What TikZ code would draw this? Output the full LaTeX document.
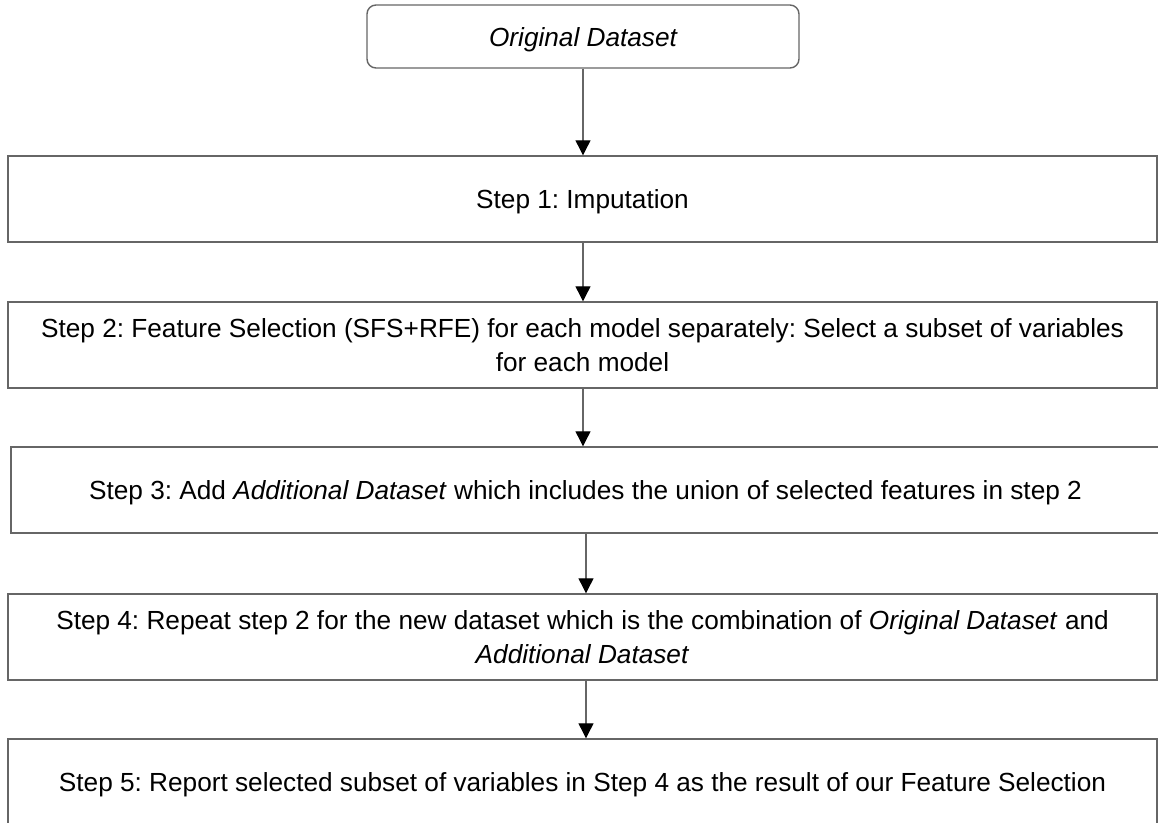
\documentclass[tikz,border=0pt]{standalone}
\usepackage{fontspec}
\setmainfont{Liberation Sans}
\usetikzlibrary{arrows.meta}
\definecolor{edge}{HTML}{666666}
\frenchspacing
\begin{document}
\begin{tikzpicture}[x=0.5pt,y=-0.5pt,
  every node/.style={font=\fontsize{13.1pt}{17pt}\selectfont, text=black, align=center, inner sep=0pt},
  oneline/.style={text height=12.75pt, text depth=3pt},
  stepbox/.style={draw=edge, line width=0.7pt, rectangle, minimum width=574.5pt, minimum height=43pt},
  startbox/.style={draw=edge, line width=0.7pt, rectangle, rounded corners=4.5pt, minimum width=216pt, minimum height=31.5pt},
  flow/.style={draw=edge, line width=0.6pt, -{Triangle[length=7.5pt,width=7.5pt,fill=black,color=black]}}
]
\useasboundingbox (0,0) rectangle (1158,823);
\fill[white] (0,0) rectangle (1158,823);

\node[startbox, oneline] (orig) at (583,36.5) {\itshape Original Dataset};
\node[stepbox, oneline] (s1) at (582.5,199) {Step 1: Imputation};
\node[stepbox] (s2) at (582.5,345) {Step 2: Feature Selection (SFS+RFE) for each model separately: Select a subset of variables\\for each model};
\node[stepbox, oneline] (s3) at (585.5,490) {Step 3: Add \textit{Additional Dataset} which includes the union of selected features in step 2};
\node[stepbox] (s4) at (582.5,637) {Step 4: Repeat step 2 for the new dataset which is the combination of \textit{Original Dataset} and\\\textit{Additional Dataset}};
\node[stepbox, oneline] (s5) at (582.5,782) {Step 5: Report selected subset of variables in Step 4 as the result of our Feature Selection};

\draw[flow] (orig.south) -- (orig.south |- s1.north);
\draw[flow] ([xshift=0.25pt]s1.south) -- ([xshift=0.25pt]s1.south |- s2.north);
\draw[flow] ([xshift=0.25pt]s2.south) -- ([xshift=0.25pt]s2.south |- s3.north);
\draw[flow] ([xshift=0.25pt]s3.south) -- ([xshift=0.25pt]s3.south |- s4.north);
\draw[flow] ([xshift=1.75pt]s4.south) -- ([xshift=1.75pt]s4.south |- s5.north);
\end{tikzpicture}
\end{document}
